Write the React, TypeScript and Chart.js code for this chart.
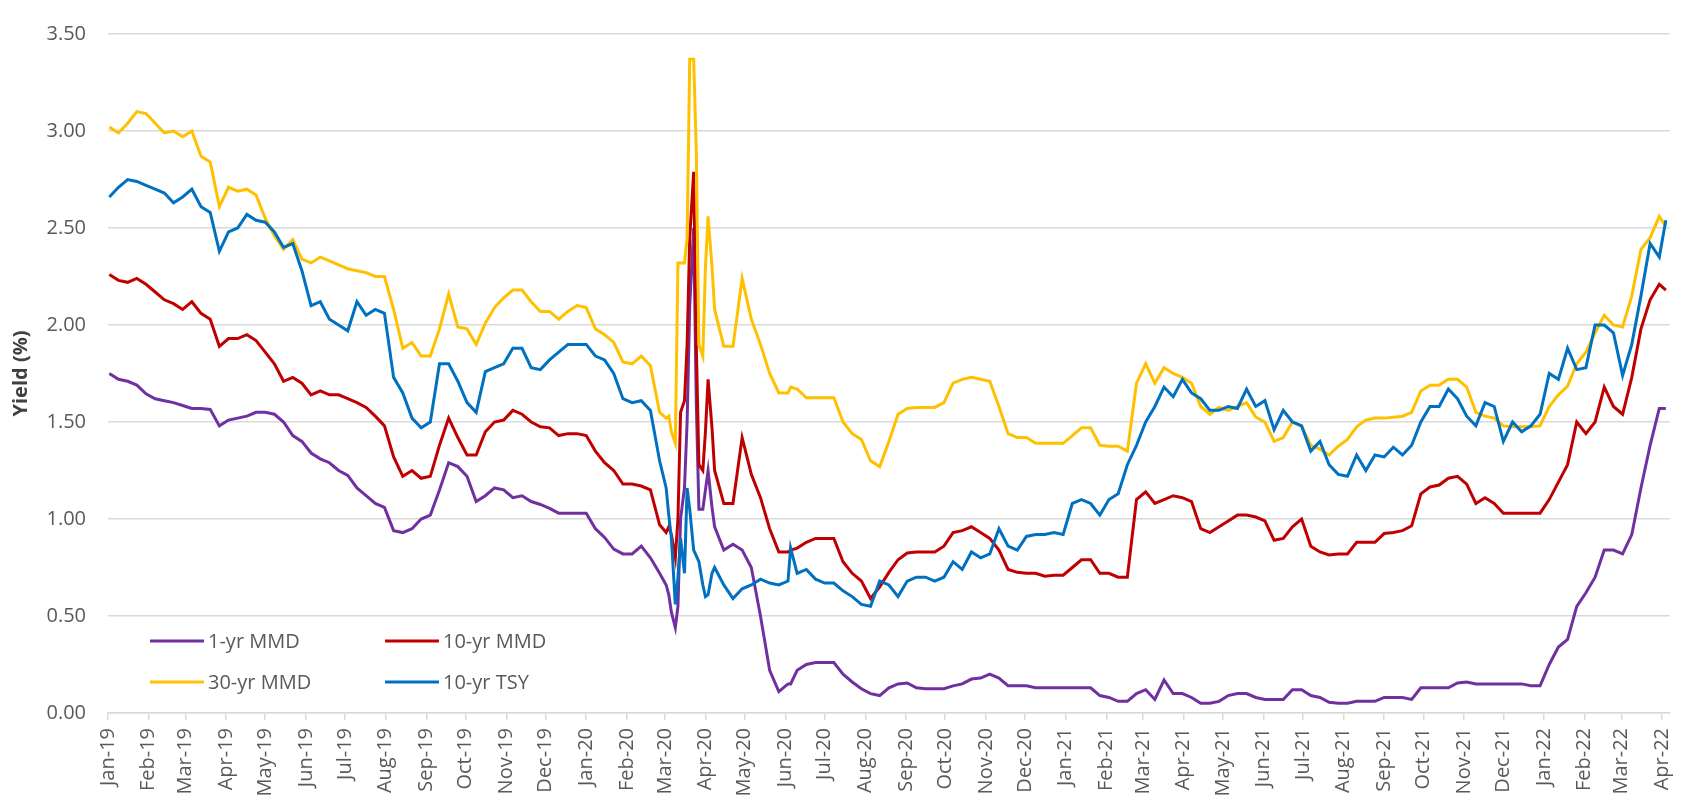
import React, { useEffect, useRef } from "react";
import { Chart, registerables } from "chart.js";

Chart.register(...registerables);

// Observation dates (weekly, denser around March 2020)
const dates = [
  "2019-01-02","2019-01-09","2019-01-16","2019-01-23","2019-01-30","2019-02-06","2019-02-13","2019-02-20","2019-02-27","2019-03-06",
  "2019-03-13","2019-03-20","2019-03-27","2019-04-03","2019-04-10","2019-04-17","2019-04-24","2019-05-01","2019-05-08","2019-05-15",
  "2019-05-22","2019-05-29","2019-06-05","2019-06-12","2019-06-19","2019-06-26","2019-07-03","2019-07-10","2019-07-17","2019-07-24",
  "2019-07-31","2019-08-07","2019-08-14","2019-08-21","2019-08-28","2019-09-04","2019-09-11","2019-09-18","2019-09-25","2019-10-02",
  "2019-10-09","2019-10-16","2019-10-23","2019-10-30","2019-11-06","2019-11-13","2019-11-20","2019-11-27","2019-12-04","2019-12-11",
  "2019-12-18","2019-12-25","2020-01-01","2020-01-08","2020-01-15","2020-01-22","2020-01-29","2020-02-05","2020-02-12","2020-02-19",
  "2020-02-26","2020-03-02","2020-03-04","2020-03-06","2020-03-09","2020-03-11","2020-03-13","2020-03-16","2020-03-18","2020-03-20","2020-03-23","2020-03-25","2020-03-27","2020-03-30","2020-04-01","2020-04-03","2020-04-06","2020-04-08",
  "2020-04-15","2020-04-22","2020-04-29","2020-05-06","2020-05-13","2020-05-20","2020-05-27","2020-06-03","2020-06-05",
  "2020-06-10","2020-06-17","2020-06-24","2020-07-01","2020-07-08","2020-07-15","2020-07-22","2020-07-29","2020-08-05","2020-08-12",
  "2020-08-19","2020-08-26","2020-09-02","2020-09-09","2020-09-16","2020-09-23","2020-09-30","2020-10-07","2020-10-14","2020-10-21",
  "2020-10-28","2020-11-04","2020-11-11","2020-11-18","2020-11-25","2020-12-02","2020-12-09","2020-12-16","2020-12-23","2020-12-30",
  "2021-01-06","2021-01-13","2021-01-20","2021-01-27","2021-02-03","2021-02-10","2021-02-17","2021-02-24","2021-03-03","2021-03-10",
  "2021-03-17","2021-03-24","2021-03-31","2021-04-07","2021-04-14","2021-04-21","2021-04-28","2021-05-05","2021-05-12","2021-05-19",
  "2021-05-26","2021-06-02","2021-06-09","2021-06-16","2021-06-23","2021-06-30","2021-07-07","2021-07-14","2021-07-21","2021-07-28",
  "2021-08-04","2021-08-11","2021-08-18","2021-08-25","2021-09-01","2021-09-08","2021-09-15","2021-09-22","2021-09-29","2021-10-06",
  "2021-10-13","2021-10-20","2021-10-27","2021-11-03","2021-11-10","2021-11-17","2021-11-24","2021-12-01","2021-12-08","2021-12-15",
  "2021-12-22","2021-12-29","2022-01-05","2022-01-12","2022-01-19","2022-01-26","2022-02-02","2022-02-09","2022-02-16","2022-02-23",
  "2022-03-02","2022-03-09","2022-03-16","2022-03-23","2022-03-30","2022-04-04",
];

const oneYrMMD = [
  1.75, 1.72, 1.71, 1.69, 1.645, 1.62, 1.61, 1.60, 1.585, 1.57,
  1.57, 1.565, 1.48, 1.51, 1.52, 1.53, 1.55, 1.55, 1.54, 1.50,
  1.43, 1.40, 1.34, 1.31, 1.29, 1.25, 1.225, 1.16, 1.12, 1.08,
  1.06, 0.94, 0.93, 0.95, 1.00, 1.02, 1.15, 1.29, 1.27, 1.22,
  1.09, 1.12, 1.16, 1.15, 1.11, 1.12, 1.09, 1.075, 1.055, 1.03,
  1.03, 1.03, 1.03, 0.95, 0.905, 0.845, 0.82, 0.82, 0.86, 0.80,
  0.72, 0.66, 0.61, 0.52, 0.44, 0.55, 1.00, 1.16, 1.50, 2.10, 2.50, 1.60, 1.05, 1.05, 1.15, 1.25, 1.06, 0.96,
  0.84, 0.87, 0.84, 0.75, 0.50, 0.22, 0.11, 0.15, 0.15,
  0.22, 0.25, 0.26, 0.26, 0.26, 0.20, 0.16, 0.125, 0.10, 0.09,
  0.13, 0.15, 0.155, 0.13, 0.125, 0.125, 0.125, 0.14, 0.15, 0.175,
  0.18, 0.20, 0.18, 0.14, 0.14, 0.14, 0.13, 0.13, 0.13, 0.13,
  0.13, 0.13, 0.13, 0.09, 0.08, 0.06, 0.06, 0.10, 0.12, 0.07,
  0.17, 0.10, 0.10, 0.08, 0.05, 0.05, 0.06, 0.09, 0.10, 0.10,
  0.08, 0.07, 0.07, 0.07, 0.12, 0.12, 0.09, 0.08, 0.055, 0.05,
  0.05, 0.06, 0.06, 0.06, 0.08, 0.08, 0.08, 0.07, 0.13, 0.13,
  0.13, 0.13, 0.155, 0.16, 0.15, 0.15, 0.15, 0.15, 0.15, 0.15,
  0.14, 0.14, 0.25, 0.34, 0.38, 0.55, 0.62, 0.70, 0.84, 0.84,
  0.82, 0.92, 1.16, 1.38, 1.57, 1.57,
];

const tenYrMMD = [
  2.26, 2.23, 2.22, 2.24, 2.21, 2.17, 2.13, 2.11, 2.08, 2.12,
  2.06, 2.03, 1.89, 1.93, 1.93, 1.95, 1.92, 1.86, 1.80, 1.71,
  1.73, 1.70, 1.64, 1.66, 1.64, 1.64, 1.62, 1.60, 1.575, 1.53,
  1.48, 1.32, 1.22, 1.25, 1.21, 1.22, 1.38, 1.52, 1.42, 1.33,
  1.33, 1.45, 1.50, 1.51, 1.56, 1.54, 1.50, 1.475, 1.47, 1.43,
  1.44, 1.44, 1.43, 1.35, 1.29, 1.25, 1.18, 1.18, 1.17, 1.15,
  0.97, 0.93, 0.96, 0.92, 0.80, 1.00, 1.55, 1.61, 1.90, 2.45, 2.79, 1.90, 1.28, 1.25, 1.45, 1.72, 1.47, 1.25,
  1.08, 1.08, 1.42, 1.23, 1.11, 0.95, 0.83, 0.83, 0.84,
  0.85, 0.88, 0.90, 0.90, 0.90, 0.78, 0.72, 0.68, 0.59, 0.65,
  0.725, 0.79, 0.825, 0.83, 0.83, 0.83, 0.86, 0.93, 0.94, 0.96,
  0.93, 0.90, 0.84, 0.74, 0.725, 0.72, 0.72, 0.705, 0.71, 0.71,
  0.75, 0.79, 0.79, 0.72, 0.72, 0.70, 0.70, 1.10, 1.14, 1.08,
  1.10, 1.12, 1.11, 1.09, 0.95, 0.93, 0.96, 0.99, 1.02, 1.02,
  1.01, 0.99, 0.89, 0.90, 0.96, 1.00, 0.86, 0.83, 0.815, 0.82,
  0.82, 0.88, 0.88, 0.88, 0.925, 0.93, 0.94, 0.965, 1.13, 1.165,
  1.175, 1.21, 1.22, 1.18, 1.08, 1.11, 1.08, 1.03, 1.03, 1.03,
  1.03, 1.03, 1.10, 1.19, 1.28, 1.50, 1.44, 1.50, 1.68, 1.58,
  1.54, 1.73, 1.98, 2.13, 2.21, 2.18,
];

const thirtyYrMMD = [
  3.02, 2.99, 3.04, 3.10, 3.09, 3.04, 2.99, 3.00, 2.97, 3.00,
  2.87, 2.84, 2.61, 2.71, 2.69, 2.70, 2.67, 2.55, 2.46, 2.39,
  2.44, 2.34, 2.32, 2.35, 2.33, 2.31, 2.29, 2.28, 2.27, 2.25,
  2.25, 2.08, 1.88, 1.91, 1.84, 1.84, 1.98, 2.16, 1.99, 1.98,
  1.90, 2.01, 2.09, 2.14, 2.18, 2.18, 2.12, 2.07, 2.07, 2.03,
  2.07, 2.10, 2.09, 1.98, 1.95, 1.91, 1.81, 1.80, 1.84, 1.79,
  1.55, 1.52, 1.53, 1.45, 1.39, 2.32, 2.32, 2.32, 2.45, 3.37, 3.37, 2.90, 1.90, 1.84, 2.30, 2.56, 2.30, 2.08,
  1.89, 1.89, 2.24, 2.03, 1.90, 1.75, 1.65, 1.65, 1.68,
  1.67, 1.625, 1.625, 1.625, 1.625, 1.50, 1.44, 1.41, 1.30, 1.27,
  1.40, 1.54, 1.57, 1.575, 1.575, 1.575, 1.60, 1.70, 1.72, 1.73,
  1.72, 1.71, 1.58, 1.44, 1.42, 1.42, 1.39, 1.39, 1.39, 1.39,
  1.43, 1.47, 1.47, 1.38, 1.375, 1.375, 1.35, 1.70, 1.80, 1.70,
  1.78, 1.75, 1.73, 1.70, 1.58, 1.54, 1.575, 1.56, 1.58, 1.60,
  1.525, 1.50, 1.40, 1.42, 1.50, 1.48, 1.38, 1.36, 1.33, 1.375,
  1.41, 1.475, 1.51, 1.52, 1.52, 1.525, 1.53, 1.55, 1.66, 1.69,
  1.69, 1.72, 1.72, 1.68, 1.55, 1.53, 1.52, 1.48, 1.475, 1.475,
  1.475, 1.48, 1.58, 1.64, 1.685, 1.80, 1.86, 1.96, 2.05, 2.00,
  1.99, 2.15, 2.39, 2.45, 2.56, 2.51,
];

const tenYrTSY = [
  2.66, 2.71, 2.75, 2.74, 2.72, 2.70, 2.68, 2.63, 2.66, 2.70,
  2.61, 2.58, 2.38, 2.48, 2.50, 2.57, 2.54, 2.53, 2.48, 2.40,
  2.42, 2.28, 2.10, 2.12, 2.03, 2.00, 1.97, 2.12, 2.05, 2.08,
  2.06, 1.73, 1.65, 1.52, 1.47, 1.50, 1.80, 1.80, 1.71, 1.60,
  1.55, 1.76, 1.78, 1.80, 1.88, 1.88, 1.78, 1.77, 1.82, 1.86,
  1.90, 1.90, 1.90, 1.84, 1.82, 1.75, 1.62, 1.60, 1.61, 1.56,
  1.30, 1.16, 1.02, 0.90, 0.56, 0.70, 0.90, 0.72, 1.16, 1.05, 0.84, 0.81, 0.78, 0.66, 0.60, 0.61, 0.72, 0.75,
  0.66, 0.59, 0.64, 0.66, 0.69, 0.67, 0.66, 0.68, 0.85,
  0.72, 0.74, 0.69, 0.67, 0.67, 0.63, 0.60, 0.56, 0.55, 0.68,
  0.66, 0.60, 0.68, 0.70, 0.70, 0.68, 0.70, 0.78, 0.74, 0.83,
  0.80, 0.82, 0.95, 0.86, 0.84, 0.91, 0.92, 0.92, 0.93, 0.92,
  1.08, 1.10, 1.08, 1.02, 1.10, 1.13, 1.28, 1.38, 1.50, 1.58,
  1.68, 1.63, 1.72, 1.65, 1.62, 1.56, 1.56, 1.58, 1.57, 1.67,
  1.58, 1.61, 1.46, 1.56, 1.50, 1.48, 1.35, 1.40, 1.28, 1.23,
  1.22, 1.33, 1.25, 1.33, 1.32, 1.37, 1.33, 1.38, 1.50, 1.58,
  1.58, 1.67, 1.62, 1.53, 1.48, 1.60, 1.58, 1.40, 1.50, 1.45,
  1.48, 1.54, 1.75, 1.72, 1.88, 1.77, 1.78, 2.00, 2.00, 1.96,
  1.74, 1.90, 2.15, 2.42, 2.35, 2.54,
];

const monthTicks = [
  "2019-01-01","2019-02-01","2019-03-01","2019-04-01","2019-05-01","2019-06-01","2019-07-01","2019-08-01","2019-09-01","2019-10-01","2019-11-01","2019-12-01",
  "2020-01-01","2020-02-01","2020-03-01","2020-04-01","2020-05-01","2020-06-01","2020-07-01","2020-08-01","2020-09-01","2020-10-01","2020-11-01","2020-12-01",
  "2021-01-01","2021-02-01","2021-03-01","2021-04-01","2021-05-01","2021-06-01","2021-07-01","2021-08-01","2021-09-01","2021-10-01","2021-11-01","2021-12-01",
  "2022-01-01","2022-02-01","2022-03-01","2022-04-01",
];
const monthNames = ["Jan","Feb","Mar","Apr","May","Jun","Jul","Aug","Sep","Oct","Nov","Dec"];

const seriesNames = ["1-yr MMD", "10-yr MMD", "30-yr MMD", "10-yr TSY"];
const seriesColors = ["#7030A0", "#C00000", "#FFC000", "#0070C0"];
const seriesValues = [oneYrMMD, tenYrMMD, thirtyYrMMD, tenYrTSY];

const AXIS_START = "2019-01-01";
const AXIS_END_DAYS = 1192;

const FONT = "'Open Sans', sans-serif";

const dayOf = (s: string) => Math.round((Date.parse(s) - Date.parse(AXIS_START)) / 86400000);
const monthLabel = (s: string) => {
  const [y, m] = s.split("-");
  return monthNames[Number(m) - 1] + "-" + y.slice(2);
};

const insideLegend = {
  id: "insideLegend",
  afterDraw(chart: any) {
    const ctx = chart.ctx;
    const area = chart.chartArea;
    ctx.save();
    ctx.font = `20px ${FONT}`;
    ctx.fillStyle = "#595959";
    ctx.textBaseline = "alphabetic";
    const cols = [area.left + 42, area.left + 277];
    const rows = [area.bottom - 72, area.bottom - 31];
    seriesNames.forEach((name, i) => {
      const cx = cols[i % 2];
      const cy = rows[Math.floor(i / 2)];
      ctx.strokeStyle = seriesColors[i];
      ctx.lineWidth = 3;
      ctx.beginPath();
      ctx.moveTo(cx, cy);
      ctx.lineTo(cx + 54, cy);
      ctx.stroke();
      ctx.fillText(name, cx + 58, cy + 7);
    });
    ctx.restore();
  },
};

export default function App() {
  const canvasRef = useRef<HTMLCanvasElement | null>(null);

  useEffect(() => {
    document.body.style.margin = "0";
    const canvas = canvasRef.current;
    if (!canvas) return;

    const datasets = seriesNames.map((name, i) => ({
      label: name,
      data: dates.map((d, j) => ({ x: dayOf(d), y: seriesValues[i][j] })),
      borderColor: seriesColors[i],
      backgroundColor: seriesColors[i],
      borderWidth: 3,
      pointRadius: 0,
      tension: 0,
      fill: false,
      order: seriesNames.length - i,
    }));

    const chart = new Chart(canvas, {
      type: "line",
      data: { datasets },
      plugins: [insideLegend],
      options: {
        animation: false,
        responsive: false,
        maintainAspectRatio: false,
        devicePixelRatio: 1,
        layout: { padding: { top: 15, right: 18, bottom: 0, left: 0 } },
        plugins: {
          legend: { display: false },
          tooltip: { enabled: false },
        },
        scales: {
          x: {
            type: "linear",
            min: 0,
            max: AXIS_END_DAYS,
            afterBuildTicks: (scale: any) => {
              scale.ticks = monthTicks.map((d) => ({ value: dayOf(d) }));
            },
            afterFit: (scale: any) => {
              scale.height = 88;
            },
            ticks: {
              autoSkip: false,
              minRotation: 90,
              maxRotation: 90,
              padding: 8,
              color: "#595959",
              font: { family: FONT, size: 20 },
              callback: (_v: any, i: number) => monthLabel(monthTicks[i]),
            },
            grid: {
              drawOnChartArea: false,
              drawTicks: true,
              tickLength: 7,
              color: "#d9d9d9",
              lineWidth: 1.5,
            },
            border: { display: true, color: "#d9d9d9", width: 1.5 },
          },
          y: {
            min: 0,
            max: 3.5,
            afterFit: (scale: any) => {
              scale.width = 108;
            },
            ticks: {
              stepSize: 0.5,
              padding: 22,
              color: "#595959",
              font: { family: FONT, size: 20 },
              callback: (v: any) => Number(v).toFixed(2),
            },
            grid: { color: "#d9d9d9", lineWidth: 1.5, drawTicks: false },
            border: { display: false },
            title: {
              display: true,
              text: "Yield (%)",
              color: "#404040",
              font: { family: FONT, size: 20, weight: "bold" },
              padding: { top: 9, bottom: 0 },
            },
          },
        },
      },
    } as any);

    return () => chart.destroy();
  }, []);

  return (
    <div style={{ width: 1694, height: 801, position: "relative", background: "#fff" }}>
      <canvas ref={canvasRef} width={1694} height={801} style={{ display: "block" }} />
    </div>
  );
}
